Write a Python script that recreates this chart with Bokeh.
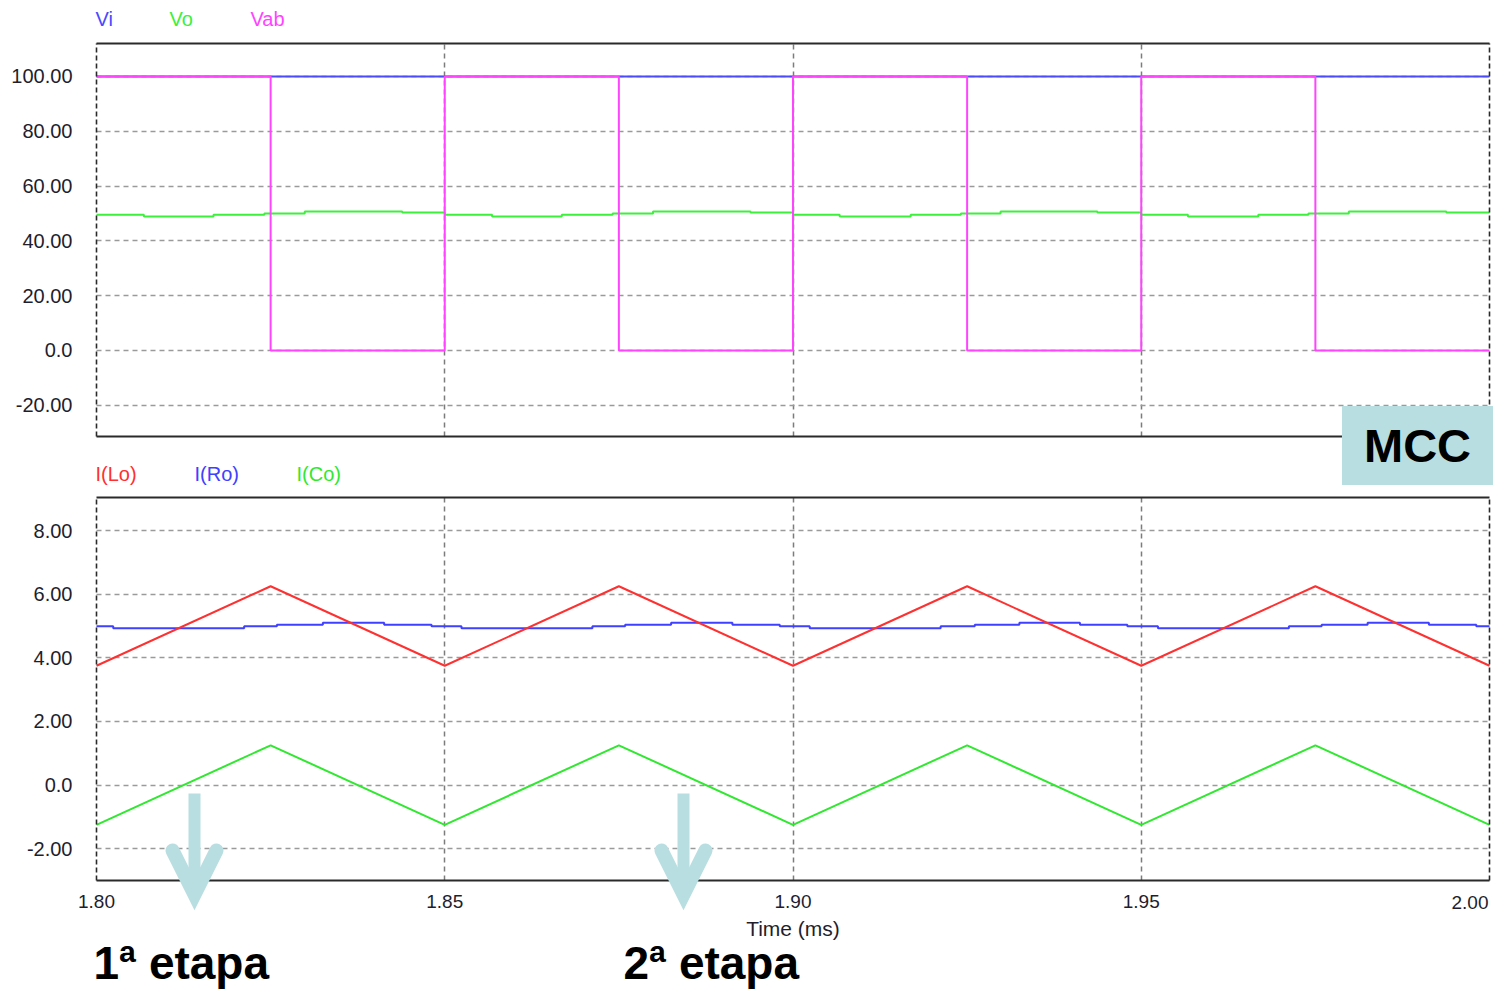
from bokeh.plotting import figure
from bokeh.models import (Range1d, FixedTicker, LinearAxis, Grid, Label, Arrow, OpenHead,
                          NumeralTickFormatter)
from bokeh.embed import file_html
from bokeh.resources import INLINE

# ---------------- data ----------------
T_START, T_END = 1.80, 2.00
x_ticks = [1.80, 1.85, 1.90, 1.95]
x_labels = ["1.80", "1.85", "1.90", "1.95"]
x_last_label = "2.00"
grid_x = [1.85, 1.90, 1.95]

TOP_Y = (-31.4, 112.0)
BOT_Y = (-3.0, 9.04)
top_y_ticks = [-20, 0, 20, 40, 60, 80, 100]
top_y_labels = ["-20.00", "0.0", "20.00", "40.00", "60.00", "80.00", "100.00"]
bot_y_ticks = [-2, 0, 2, 4, 6, 8]
bot_y_labels = ["-2.00", "0.0", "2.00", "4.00", "6.00", "8.00"]

# Voltages (top panel)
vi_t = [1.80]
vi_v = [100.0]

vab_t = [1.800, 1.825, 1.850, 1.875, 1.900, 1.925, 1.950, 1.975]
vab_v = [100, 0, 100, 0, 100, 0, 100, 0]

vo_t = [1.8000, 1.8068, 1.8168, 1.8241, 1.8299, 1.8439,
        1.8500, 1.8568, 1.8668, 1.8741, 1.8799, 1.8939,
        1.9000, 1.9067, 1.9169, 1.9241, 1.9298, 1.9437,
        1.9500, 1.9567, 1.9668, 1.9740, 1.9798, 1.9938]
vo_v = [49.5, 48.9, 49.5, 50.0, 50.7, 50.3,
        49.5, 48.9, 49.5, 50.0, 50.7, 50.3,
        49.5, 48.9, 49.5, 50.0, 50.7, 50.3,
        49.5, 48.9, 49.5, 50.0, 50.7, 50.3]

# Currents (bottom panel)
ilo_t = [1.800, 1.825, 1.850, 1.875, 1.900, 1.925, 1.950, 1.975, 2.000]
ilo_v = [3.75, 6.25, 3.75, 6.25, 3.75, 6.25, 3.75, 6.25, 3.75]

ico_t = [1.800, 1.825, 1.850, 1.875, 1.900, 1.925, 1.950, 1.975, 2.000]
ico_v = [-1.25, 1.25, -1.25, 1.25, -1.25, 1.25, -1.25, 1.25, -1.25]

iro_t = [1.8000, 1.8024, 1.8212, 1.8259, 1.8325, 1.8413, 1.8481,
         1.8524, 1.8712, 1.8759, 1.8825, 1.8913, 1.8981,
         1.9024, 1.9212, 1.9261, 1.9325, 1.9412, 1.9480,
         1.9524, 1.9712, 1.9759, 1.9825, 1.9913, 1.9981]
iro_v = [4.99, 4.93, 4.99, 5.04, 5.10, 5.04, 4.99,
         4.93, 4.99, 5.04, 5.10, 5.04, 4.99,
         4.93, 4.99, 5.04, 5.10, 5.04, 4.99,
         4.93, 4.99, 5.04, 5.10, 5.04, 4.99]

top_series = [("Vi", "#4a4aff"), ("Vo", "#3cf03c"), ("Vab", "#ff44ff")]
bot_series = [("I(Lo)", "#ff3030"), ("I(Ro)", "#4040ff"), ("I(Co)", "#30e830")]
stage_texts = ["1ª etapa", "2ª etapa"]
badge_text = "MCC"

# ---------------- layout (pixels) ----------------
W, H = 1495, 989
PX_X0, PX_X1 = 96, 1489          # panel left / right edges
TOP_PX = (43, 436)               # top panel top / bottom edges
BOT_PX = (497, 880)              # bottom panel top / bottom edges
FONT = "Liberation Sans"
TICK_COLOR = "#1e1e2e"
ACCENT = "#b8dee2"
FRAME_COLOR = "#2a2a2a"


def span(lo, hi, p_lo, p_hi, total):
    k = (hi - lo) / (p_hi - p_lo)
    return lo - p_lo * k, hi + (total - p_hi) * k


def stairs(t, v):
    return list(t) + [T_END], list(v) + [v[-1]]


xr = span(T_START, T_END, PX_X0, PX_X1, W)
ytr = span(TOP_Y[0], TOP_Y[1], H - TOP_PX[1], H - TOP_PX[0], H)
ybr = span(BOT_Y[0], BOT_Y[1], H - BOT_PX[1], H - BOT_PX[0], H)

p = figure(width=W, height=H, x_range=Range1d(*xr), y_range=Range1d(*ytr),
           x_axis_type=None, y_axis_type=None, output_backend="svg",
           toolbar_location=None, min_border=0)
p.extra_y_ranges = {"cur": Range1d(*ybr)}
p.outline_line_color = None
p.background_fill_color = "white"
p.border_fill_color = "white"


def bare(ax):
    ax.major_tick_out = 0
    ax.major_tick_in = 0
    ax.minor_tick_out = 0
    ax.minor_tick_in = 0
    return ax


def panel(yname, ylim, yticks, ylabels, show_x):
    kw = {} if yname is None else {"y_range_name": yname}
    # grid
    gx = Grid(dimension=0, ticker=FixedTicker(ticks=grid_x), cross_bounds=ylim,
              grid_line_color="#7c7c7c", grid_line_dash="5 4", grid_line_width=1.5, **kw)
    gy = Grid(dimension=1, ticker=FixedTicker(ticks=yticks), cross_bounds=(T_START, T_END),
              grid_line_color="#9a9a9a", grid_line_dash="5 4", grid_line_width=1.5, **kw)
    p.add_layout(gx)
    p.add_layout(gy)

    # left axis with labels (dashed line)
    la = bare(LinearAxis(fixed_location=T_START, bounds=ylim,
                         ticker=FixedTicker(ticks=yticks),
                         formatter=NumeralTickFormatter(format="0.00"),
                         major_label_overrides={k: v for k, v in zip(yticks, ylabels)},
                         **kw))
    la.axis_line_color = FRAME_COLOR
    la.axis_line_width = 1.6
    la.axis_line_dash = "5 3"
    la.major_label_standoff = 24
    la.major_label_text_font = FONT
    la.major_label_text_font_size = "20px"
    la.major_label_text_color = TICK_COLOR
    p.add_layout(la, "left")

    # right edge (dashed)
    ra = bare(LinearAxis(fixed_location=T_END, bounds=ylim, ticker=FixedTicker(ticks=[]), **kw))
    ra.axis_line_color = FRAME_COLOR
    ra.axis_line_width = 1.6
    ra.axis_line_dash = "5 3"
    ra.major_label_text_font_size = "0px"
    p.add_layout(ra, "right")

    # top edge (solid)
    ta = bare(LinearAxis(fixed_location=ylim[1], bounds=(T_START, T_END),
                         ticker=FixedTicker(ticks=[]), **kw))
    ta.axis_line_color = FRAME_COLOR
    ta.axis_line_width = 2
    ta.major_label_text_font_size = "0px"
    p.add_layout(ta, "above")

    # bottom edge (solid), with time labels on the lower panel
    ba = bare(LinearAxis(fixed_location=ylim[0], bounds=(T_START, T_END), **kw))
    ba.axis_line_color = FRAME_COLOR
    ba.axis_line_width = 2
    if show_x:
        ba.ticker = FixedTicker(ticks=x_ticks)
        ba.formatter = NumeralTickFormatter(format="0.00")
        ba.major_label_overrides = {k: v for k, v in zip(x_ticks, x_labels)}
        ba.major_label_standoff = 14
        ba.major_label_text_font = FONT
        ba.major_label_text_font_size = "19px"
        ba.major_label_text_color = TICK_COLOR
        ba.axis_label = "Time (ms)"
        ba.axis_label_text_font = FONT
        ba.axis_label_text_font_size = "21px"
        ba.axis_label_text_font_style = "normal"
        ba.axis_label_text_color = TICK_COLOR
        ba.axis_label_standoff = 6
    else:
        ba.ticker = FixedTicker(ticks=[])
        ba.major_label_text_font_size = "0px"
    p.add_layout(ba, "below")


panel(None, TOP_Y, top_y_ticks, top_y_labels, show_x=False)
panel("cur", BOT_Y, bot_y_ticks, bot_y_labels, show_x=True)

# ---- top panel series ----
x, y = stairs(vi_t, vi_v)
p.step(x, y, mode="after", line_color=top_series[0][1], line_width=2)
x, y = stairs(vo_t, vo_v)
p.step(x, y, mode="after", line_color=top_series[1][1], line_width=2)
x, y = stairs(vab_t, vab_v)
p.step(x, y, mode="after", line_color=top_series[2][1], line_width=2)

# ---- bottom panel series ----
x, y = stairs(iro_t, iro_v)
p.step(x, y, mode="after", line_color=bot_series[1][1], line_width=2, y_range_name="cur")
p.line(ilo_t, ilo_v, line_color=bot_series[0][1], line_width=2, y_range_name="cur")
p.line(ico_t, ico_v, line_color=bot_series[2][1], line_width=2, y_range_name="cur")


def screen_label(X, Y, text, **kw):
    p.add_layout(Label(x=X, y=H - Y, x_units="screen", y_units="screen", text=text,
                       text_font=FONT, **kw))


# coloured series names above each panel
for (name, col), X in zip(top_series, [95, 169, 250]):
    screen_label(X, 18, name, text_color=col, text_font_size="20px", text_baseline="middle")
for (name, col), X in zip(bot_series, [95, 194, 296]):
    screen_label(X, 473, name, text_color=col, text_font_size="20px", text_baseline="middle")

# last time label, kept inside the page
screen_label(PX_X1 - 1, 902, x_last_label, text_color=TICK_COLOR, text_font_size="19px",
             text_align="right", text_baseline="middle")

# MCC badge
screen_label(1417, 445, badge_text, text_color="black", text_font_size="47px",
             text_font_style="bold", text_align="center", text_baseline="middle",
             background_fill_color=ACCENT, padding=(22, 13))

# stage arrows and captions
for X in [194, 683]:
    p.add_layout(Arrow(x_start=X, y_start=H - 793, x_end=X, y_end=H - 894,
                       start_units="screen", end_units="screen",
                       line_color=ACCENT, line_width=12,
                       end=OpenHead(size=44, line_color=ACCENT, line_width=14,
                                    line_join="miter", line_cap="round")))
for X, txt in zip([93, 623], stage_texts):
    screen_label(X, 962, txt, text_color="black", text_font_size="46px",
                 text_font_style="bold", text_baseline="middle")

open("out.html", "w").write(file_html(p, INLINE))
